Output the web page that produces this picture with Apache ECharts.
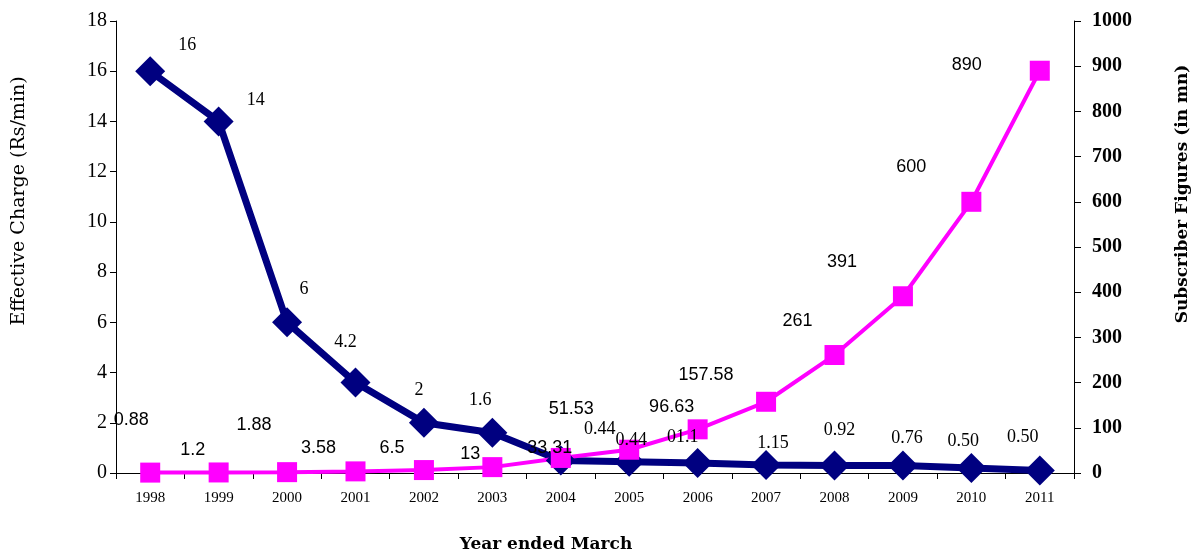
<!DOCTYPE html>
<html>
<head>
<meta charset="utf-8">
<script src="https://cdn.jsdelivr.net/npm/echarts@6/dist/echarts.min.js"></script>
<style>html,body{margin:0;padding:0;background:#fff}#c{width:1200px;height:555px}</style>
</head>
<body>
<div id="c"></div>
<script>
// Data
var years = ['1998','1999','2000','2001','2002','2003','2004','2005','2006','2007','2008','2009','2010','2011'];
var effectiveCharge = [16, 14, 6, 3.6, 2, 1.6, 0.5, 0.45, 0.4, 0.32, 0.3, 0.3, 0.2, 0.1];
var chargeLabels = ['16','14','6','4.2','2','1.6','0.44','0.44','01.1','1.15','0.92','0.76','0.50','0.50'];
var subscribers = [0.88, 1.2, 1.88, 3.58, 6.5, 13, 33.31, 51.53, 96.63, 157.58, 261, 391, 600, 890];
var subscriberLabels = ['0.88','1.2','1.88','3.58','6.5','13','33.31','51.53','96.63','157.58','261','391','600','890'];
var leftTicks = [0, 2, 4, 6, 8, 10, 12, 14, 16, 18];
var rightTicks = [0, 100, 200, 300, 400, 500, 600, 700, 800, 900, 1000];

// label placement (layout only)
var chargeLabelOffsets = [[37,-26],[37,-21],[17,-33],[-10,-40],[-5,-33],[-12,-33],[39,-31],[2,-21],[-15,-26],[7,-22],[5,-35],[4,-27],[-8,-27],[-17,-33]];
var subsLabelOffsets = [[-19,-53],[-26,-22],[-33,-47],[-37,-23],[-32,-22],[-22,-13],[-11,-10],[-58,-41],[-26,-22],[-60,-27],[-37,-34],[-61,-34],[-60,-35],[-73,-6]];

var serif = 'Liberation Serif';
var chart = echarts.init(document.getElementById('c'));

var chargeData = effectiveCharge.map(function (v, i) {
  return { value: v, label: { formatter: chargeLabels[i], offset: chargeLabelOffsets[i] } };
});
var subsData = subscribers.map(function (v, i) {
  return { value: v, label: { formatter: subscriberLabels[i], offset: subsLabelOffsets[i] } };
});

chart.setOption({
  animation: false,
  backgroundColor: '#fff',
  grid: { left: 116, right: 126, top: 21, bottom: 82, containLabel: false },
  xAxis: {
    type: 'category',
    data: years,
    boundaryGap: true,
    axisLine: { lineStyle: { color: '#000', width: 1 } },
    axisTick: { show: true, alignWithLabel: false, length: 6, lineStyle: { color: '#000' } },
    axisLabel: { color: '#000', fontFamily: serif, fontSize: 15, margin: 18 }
  },
  yAxis: [
    {
      type: 'value', min: 0, max: 18, interval: 2, position: 'left',
      splitLine: { show: false },
      axisLine: { show: true, lineStyle: { color: '#000' } },
      axisTick: { show: true, length: 6, lineStyle: { color: '#000' } },
      axisLabel: { color: '#000', fontFamily: serif, fontSize: 20, margin: 9,
        formatter: function (v) { return leftTicks.indexOf(v) >= 0 ? String(v) : ''; } }
    },
    {
      type: 'value', min: 0, max: 1000, interval: 100, position: 'right',
      splitLine: { show: false },
      axisLine: { show: true, lineStyle: { color: '#000' } },
      axisTick: { show: true, length: 7, lineStyle: { color: '#000' } },
      axisLabel: { color: '#000', fontFamily: serif, fontWeight: 'bold', fontSize: 20, margin: 18,
        formatter: function (v) { return rightTicks.indexOf(v) >= 0 ? String(v) : ''; } }
    }
  ],
  series: [
    {
      name: 'Effective Charge',
      type: 'line',
      yAxisIndex: 0,
      data: chargeData,
      symbol: 'diamond',
      symbolSize: 30,
      itemStyle: { color: '#000080' },
      lineStyle: { color: '#000080', width: 7 },
      z: 2,
      label: { show: true, position: 'inside', color: '#000', fontFamily: serif, fontSize: 18 }
    },
    {
      name: 'Subscribers',
      type: 'line',
      yAxisIndex: 1,
      data: subsData,
      symbol: 'rect',
      symbolSize: 20,
      itemStyle: { color: '#FF00FF' },
      lineStyle: { color: '#FF00FF', width: 4 },
      z: 2,
      label: { show: true, position: 'inside', color: '#000', fontFamily: 'Liberation Sans', fontSize: 18 }
    }
  ],
  graphic: [
    { type: 'text', x: 19, y: 201, rotation: Math.PI / 2,
      style: { text: 'Effective Charge (Rs/min)', fill: '#000', font: '19px "DejaVu Serif"', textAlign: 'center', textVerticalAlign: 'middle' } },
    { type: 'text', x: 1183, y: 194, rotation: Math.PI / 2,
      style: { text: 'Subscriber Figures (in mn)', fill: '#000', font: 'bold 17px "DejaVu Serif"', textAlign: 'center', textVerticalAlign: 'middle' } },
    { type: 'text', x: 546, y: 545,
      style: { text: 'Year ended March', fill: '#000', font: 'bold 17px "DejaVu Serif"', textAlign: 'center', textVerticalAlign: 'middle' } }
  ]
});
</script>
</body>
</html>
